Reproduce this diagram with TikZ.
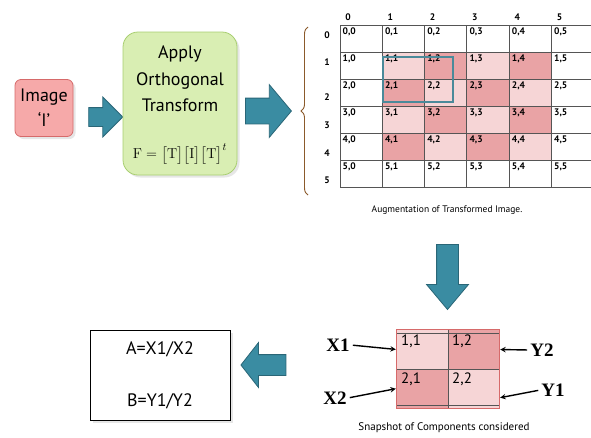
\documentclass[tikz,border=0pt]{standalone}
\usepackage{amsmath}
\usepackage[no-math]{fontspec}
\setmainfont{PT Sans}
\newfontfamily\lblfont{Liberation Serif}
\usepackage{tikz}
\usetikzlibrary{shapes.arrows,decorations.pathreplacing,shadows}

\definecolor{imgfill}{HTML}{F6A9A9}
\definecolor{imgedge}{HTML}{D66A6A}
\definecolor{procfill}{HTML}{D9EEB3}
\definecolor{procedge}{HTML}{A8CE70}
\definecolor{arrteal}{HTML}{3A8CA2}
\definecolor{arredge}{HTML}{2A6677}
\definecolor{darkcell}{HTML}{E9A3A5}
\definecolor{lightcell}{HTML}{F6D5D6}
\definecolor{gridgray}{HTML}{555555}
\definecolor{selblue}{HTML}{4A8A9A}
\definecolor{bracecol}{HTML}{8B5A2B}

\begin{document}
\begin{tikzpicture}[x=1pt,y=-1pt,
    imgbox/.style={draw=imgedge, fill=imgfill, rounded corners=6pt, line width=0.8pt,
        minimum width=58pt, minimum height=57pt, align=center,
        font=\fontsize{18}{25}\selectfont, drop shadow={opacity=0.2}},
    procbox/.style={draw=procedge, fill=procfill, rounded corners=15pt, line width=0.8pt,
        minimum width=114pt, minimum height=143pt, drop shadow={opacity=0.2}},
    resbox/.style={draw=black, fill=white, line width=0.8pt, minimum width=140pt,
        minimum height=90pt, align=center, font=\fontsize{18}{52}\selectfont,
        drop shadow={opacity=0.2}},
    blockarr/.style={single arrow, draw=arredge, fill=arrteal, line width=0.8pt,
        inner xsep=0pt, minimum width=0pt},
    celltxt/.style={anchor=north west, inner sep=1pt, font=\fontsize{9.5}{11}\selectfont\bfseries},
    bigcell/.style={anchor=north west, inner sep=1pt, font=\fontsize{15}{17}\selectfont},
    axlbl/.style={inner sep=0pt, font=\fontsize{9.5}{11}\selectfont\bfseries},
    gridline/.style={draw=gridgray, line width=0.9pt},
    comp/.style={inner sep=0pt, minimum width=51pt, minimum height=39pt},
    complbl/.style={inner sep=1pt, font=\lblfont\fontsize{19}{21}\selectfont\bfseries},
    pointer/.style={->, >=stealth, line width=1.4pt, shorten <=2pt, shorten >=1pt},
    caption/.style={inner sep=0pt}]
\useasboundingbox (0,0) rectangle (591,437);

\node[imgbox] (img) at (44,108) {Image\\‘I’};
\node[blockarr, inner ysep=9pt, single arrow head extend=10.5pt, minimum height=34pt] (a1) at (101,117) {};
\node[procbox] (proc) at (180,103.5) {};
\node[align=center, font=\fontsize{18}{26.5}\selectfont] (title) at (180,79) {Apply\\Orthogonal\\Transform};
\node[font=\fontsize{15}{17}\selectfont] (frm) at (180,154)
    {$\mathrm{F} = \big[\mathrm{T}\big]\big[\mathrm{I}\big]\big[\mathrm{T}\big]^{t}$};
\node[blockarr, inner ysep=12.5pt, single arrow head extend=13.5pt, single arrow tip angle=100,
    minimum height=46pt] (a2) at (263,111) {};

\draw[decorate, decoration={brace, amplitude=7pt}, draw=bracecol, line width=0.9pt] (308,195) -- (308,27);

\foreach \r/\c in {1/2,1/4,2/1,2/3,3/2,3/4,4/1,4/3}
    \fill[darkcell] ({340+42.3*\c},{25+27*\r}) rectangle ++(42.3,27);
\foreach \r/\c in {1/1,1/3,2/2,2/4,3/1,3/3,4/2,4/4}
    \fill[lightcell] ({340+42.3*\c},{25+27*\r}) rectangle ++(42.3,27);
\foreach \r in {0,...,6}
    \draw[gridline] (340,{25+27*\r}) -- (591,{25+27*\r});
\foreach \c in {0,...,5}
    \draw[gridline] ({340+42.3*\c},25) -- ({340+42.3*\c},187);
\foreach \r in {0,...,5}
    \foreach \c in {0,...,5}
        \node[celltxt] (cell\r\c) at ({340+42.3*\c+1.5},{25+27*\r+2}) {\r,\c};
\foreach \c in {0,...,5}
    \node[axlbl] (col\c) at ({348+42.3*\c},17) {\c};
\foreach \r/\y in {0/35,1/62,2/97,3/125,4/153,5/180}
    \node[axlbl] (row\r) at (327,\y) {\r};
\draw[draw=selblue, line width=1.3pt] (383,57) rectangle (453,102);
\node[caption, font=\fontsize{9.5}{11}\selectfont] (cap1) at (447,210) {Augmentation of Transformed Image.};

\node[blockarr, rotate=-90, inner ysep=10.5pt, single arrow head extend=10pt, single arrow tip angle=80,
    minimum height=65pt] (a3) at (447.5,270.5) {};

\node[comp, fill=lightcell] (s11) at (422.5,349.5) {};
\node[comp, fill=darkcell] (s12) at (473.5,349.5) {};
\node[comp, fill=darkcell] (s21) at (422.5,388.5) {};
\node[comp, fill=lightcell] (s22) at (473.5,388.5) {};
\draw[draw=imgedge, line width=0.9pt] (s11.north west) rectangle (s22.south east);
\draw[gridline] (397,333) -- (499,333);
\draw[gridline] (397,405.5) -- (499,405.5);
\draw[gridline] (s11.south west) -- (s12.south east);
\draw[gridline] (s11.north east) -- (s21.south east);
\node[bigcell] (t11) at (400,334) {1,1};
\node[bigcell] (t12) at (451,334) {1,2};
\node[bigcell] (t21) at (400,372) {2,1};
\node[bigcell] (t22) at (451,372) {2,2};

\node[complbl] (x1) at (338,345) {X1};
\node[complbl] (x2) at (335,398) {X2};
\node[complbl] (y2) at (542,350) {Y2};
\node[complbl] (y1) at (553,390) {Y1};
\draw[pointer] (x1.east) -- (s11.west);
\draw[pointer] (x2.east) -- (s21.west);
\draw[pointer] (y2.west) -- (s12.east);
\draw[pointer] (y1.west) -- (s22.-20);
\node[caption, font=\fontsize{11}{13}\selectfont] (cap2) at (444,428) {Snapshot of Components considered};

\node[blockarr, rotate=180, inner ysep=10pt, single arrow head extend=12pt, single arrow tip angle=104,
    minimum height=45pt] (a4) at (267.5,365) {};
\node[resbox] (res) at (160,375) {A=X1/X2\\B=Y1/Y2};
\end{tikzpicture}
\end{document}
